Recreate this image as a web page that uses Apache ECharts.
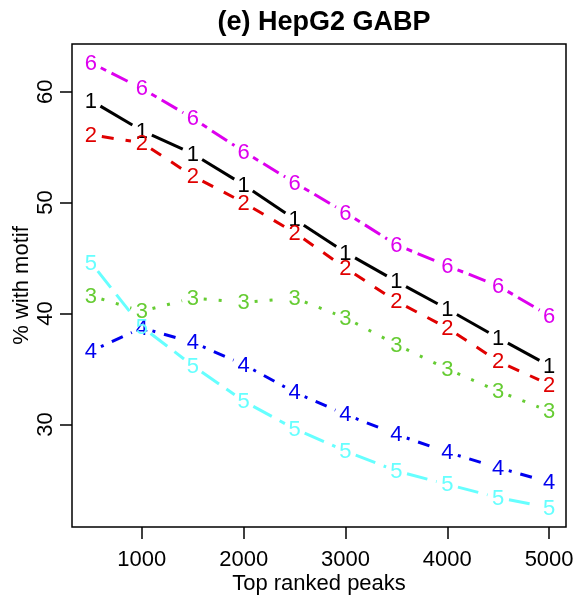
<!DOCTYPE html>
<html>
<head>
<meta charset="utf-8">
<script src="https://cdn.jsdelivr.net/npm/echarts@6/dist/echarts.min.js"></script>
<style>html,body{margin:0;padding:0;background:#fff}#c{width:574px;height:597px}</style>
</head>
<body>
<div id="c"></div>
<script>
var peaks = [500, 1000, 1500, 2000, 2500, 3000, 3500, 4000, 4500, 5000];
var s1 = [59.2, 56.5, 54.4, 51.6, 48.5, 45.5, 42.9, 40.4, 37.8, 35.3];
var s2 = [56.1, 55.4, 52.4, 50.0, 47.3, 44.1, 41.1, 38.7, 35.7, 33.6];
var s3 = [41.6, 40.2, 41.4, 41.0, 41.4, 39.6, 37.2, 35.0, 33.0, 31.2];
var s4 = [36.6, 38.7, 37.4, 35.4, 32.9, 30.9, 29.1, 27.5, 26.1, 24.8];
var s5 = [44.6, 38.8, 35.3, 32.1, 29.6, 27.6, 25.8, 24.6, 23.4, 22.5];
var s6 = [62.6, 60.3, 57.6, 54.6, 51.8, 49.1, 46.2, 44.3, 42.5, 39.8];
var xTicks = [1000, 2000, 3000, 4000, 5000];
var yTicks = [30, 40, 50, 60];
var seriesNames = ['1', '2', '3', '4', '5', '6'];

var allSeries = [s1, s2, s3, s4, s5, s6];
var colors = ['#000000', '#E00000', '#66CC33', '#0000EE', '#66FFFF', '#DD00EE'];
var dashes = [null, [12, 12], [3, 12], [3, 9, 12, 9], [21, 9], [6, 6, 18, 6]];
var FONT = '"Liberation Sans", Arial, Helvetica, sans-serif';
var GAP = 11;

function makeSeries(k) {
  var vals = allSeries[k];
  var data = peaks.map(function (x, i) { return [x, vals[i]]; });
  return {
    type: 'custom',
    name: seriesNames[k],
    data: data,
    clip: false,
    renderItem: function (params, api) {
      var i = params.dataIndex;
      var p = api.coord([peaks[i], vals[i]]);
      var children = [];
      if (i < peaks.length - 1) {
        var q = api.coord([peaks[i + 1], vals[i + 1]]);
        var dx = q[0] - p[0], dy = q[1] - p[1];
        var len = Math.sqrt(dx * dx + dy * dy);
        if (len > 2 * GAP) {
          var ux = dx / len, uy = dy / len;
          children.push({
            type: 'line',
            shape: { x1: p[0] + ux * GAP, y1: p[1] + uy * GAP, x2: q[0] - ux * GAP, y2: q[1] - uy * GAP },
            style: { stroke: colors[k], lineWidth: 3, lineDash: dashes[k] || null, lineCap: 'butt' }
          });
        }
      }
      children.push({
        type: 'text',
        x: p[0], y: p[1] + 1,
        style: { text: seriesNames[k], fill: colors[k], font: '22px ' + FONT, align: 'center', verticalAlign: 'middle' }
      });
      return { type: 'group', children: children };
    }
  };
}

var chart = echarts.init(document.getElementById('c'), null, { renderer: 'canvas' });
chart.setOption({
  animation: false,
  backgroundColor: '#ffffff',
  title: {
    text: '(e) HepG2 GABP',
    left: 319, top: 4, textAlign: 'center',
    textStyle: { fontFamily: FONT, fontSize: 27, fontWeight: 'bold', color: '#000' }
  },
  grid: { left: 72, top: 44, right: 8, bottom: 70, show: true, borderColor: '#000', borderWidth: 1.5,
    backgroundColor: 'transparent', outerBoundsMode: 'none', containLabel: false },
  xAxis: {
    type: 'value', min: 314, max: 5166,
    name: 'Top ranked peaks', nameLocation: 'middle', nameGap: 46, nameMoveOverlap: false,
    nameTextStyle: { fontFamily: FONT, fontSize: 22, color: '#000' },
    axisLine: { show: false },
    axisTick: { show: true, length: 12, customValues: xTicks, lineStyle: { color: '#000', width: 1.5 } },
    axisLabel: { customValues: xTicks, fontFamily: FONT, fontSize: 22, color: '#000', margin: 22,
      formatter: function (v) { return String(v); } },
    splitLine: { show: false }
  },
  yAxis: {
    type: 'value', min: 20.75, max: 64.3,
    name: '% with motif', nameLocation: 'middle', nameGap: 39, nameRotate: 90, nameMoveOverlap: false,
    nameTextStyle: { fontFamily: FONT, fontSize: 22, color: '#000' },
    axisLine: { show: false },
    axisTick: { show: true, length: 12, customValues: yTicks, lineStyle: { color: '#000', width: 1.5 } },
    axisLabel: { customValues: yTicks, rotate: 90, fontFamily: FONT, fontSize: 22, color: '#000', margin: 15 },
    splitLine: { show: false }
  },
  series: [0, 1, 2, 3, 4, 5].map(makeSeries)
});
</script>
</body>
</html>
